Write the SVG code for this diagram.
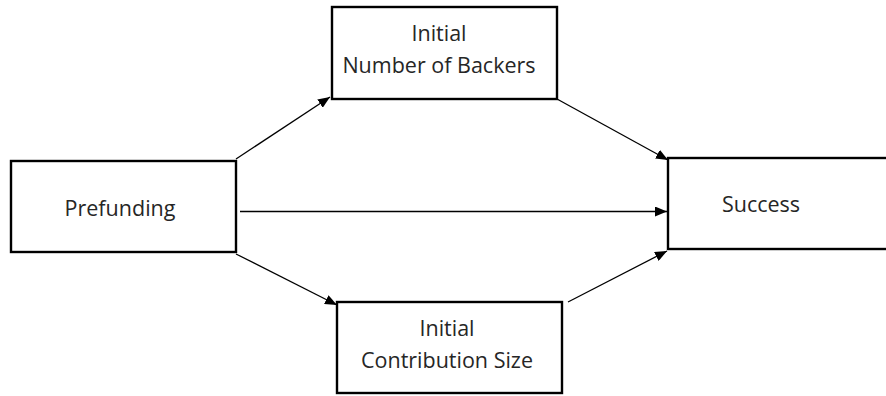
<svg xmlns="http://www.w3.org/2000/svg" width="886" height="396" viewBox="0 0 886 396">
<style>
.box{fill:#fff;stroke:#000;stroke-width:2.4}
.lbl{font-family:"Open Sans","Liberation Sans",sans-serif;font-size:21.5px;fill:#262626;text-anchor:middle}
.edge{stroke:#000;stroke-width:1.3;fill:none;marker-end:url(#ah)}
</style>
<defs>
<marker id="ah" markerWidth="12" markerHeight="10" refX="12" refY="5" orient="auto" markerUnits="userSpaceOnUse">
<path d="M0,0 L12,5 L0,10 Z" fill="#000"/>
</marker>
</defs>
<rect width="886" height="396" fill="#fff"/>
<g id="connectors">
<line class="edge" x1="236" y1="159" x2="330" y2="97"/>
<line class="edge" x1="557" y1="99" x2="668" y2="160"/>
<line class="edge" x1="240" y1="211.5" x2="667" y2="211.5"/>
<line class="edge" x1="236" y1="254" x2="337" y2="305"/>
<line class="edge" x1="568" y1="302" x2="667" y2="251"/>
</g>
<g id="prefunding">
<rect class="box" x="11" y="161" width="225" height="91"/>
<text class="lbl" x="120" y="216">Prefunding</text>
</g>
<g id="backers">
<rect class="box" x="332" y="7" width="225" height="92"/>
<text class="lbl" x="439" y="41">Initial</text>
<text class="lbl" x="439" y="73">Number of Backers</text>
</g>
<g id="contribution">
<rect class="box" x="337" y="302" width="225" height="91"/>
<text class="lbl" x="447" y="336">Initial</text>
<text class="lbl" x="447" y="368">Contribution Size</text>
</g>
<g id="success">
<rect class="box" x="668" y="158" width="224" height="91"/>
<text class="lbl" x="761" y="212">Success</text>
</g>
</svg>
